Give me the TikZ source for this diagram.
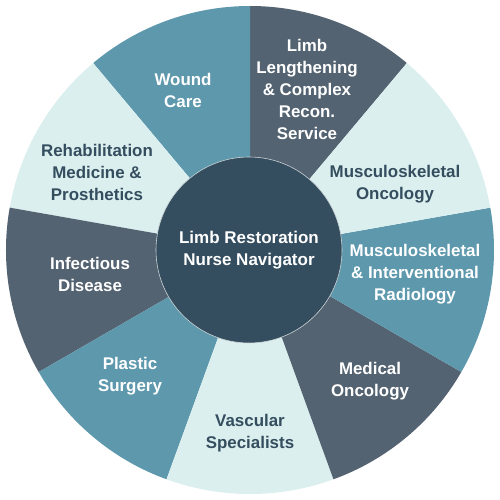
\documentclass[tikz,border=0pt]{standalone}
\usepackage{fontspec}
\setmainfont{Liberation Sans}
\usetikzlibrary{positioning}
\definecolor{tealblue}{HTML}{5E98AD}
\definecolor{slate}{HTML}{546371}
\definecolor{pale}{HTML}{DCEFEF}
\definecolor{navy}{HTML}{344E5F}
\tikzset{x=1pt, y=1pt,
    every node/.style={
        align=center,
        font=\fontsize{16.9}{22}\selectfont\bfseries},
    ondark/.style={text=white},
    onpale/.style={text=navy},
    hub/.style={
        circle,
        fill=navy,
        draw=white!75!navy,
        line width=0.6pt,
        minimum size=186pt,
        text=white,
        font=\fontsize{17}{21.5}\selectfont\bfseries}}

\begin{document}
\begin{tikzpicture}
        \useasboundingbox (-250,-250) rectangle (250,250);

        % wedges, 40 degrees each
        \foreach \a/\c in {50/slate, 90/tealblue, 130/pale, 170/slate, 210/tealblue,
                           250/pale, 290/slate, 330/tealblue, 10/pale}
            \fill[\c] (0,0) -- (\a:244) arc (\a:\a+40:244) -- cycle;

        \node[hub] (hub) at (-1,0) {Limb Restoration\\Nurse Navigator};

        \node[ondark] (wound) at (-67,160) {Wound\\Care};
        \node[ondark] (limb) at (57,161) {Limb\\Lengthening\\\& Complex\\Recon.\\Service};
        \node[onpale] (msonc) at (145,66) {Musculoskeletal\\Oncology};
        \node[ondark] (msir) at (165,-24) {Musculoskeletal\\\& Interventional\\Radiology};
        \node[ondark] (medonc) at (120,-131) {Medical\\Oncology};
        \node[onpale] (vasc) at (0,-183) {Vascular\\Specialists};
        \node[ondark] (plastic) at (-120,-126) {Plastic\\Surgery};
        \node[ondark] (infect) at (-160,-24) {Infectious\\Disease};
        \node[onpale] (rehab) at (-153,78) {Rehabilitation\\Medicine \&\\Prosthetics};
    \end{tikzpicture}
\end{document}
